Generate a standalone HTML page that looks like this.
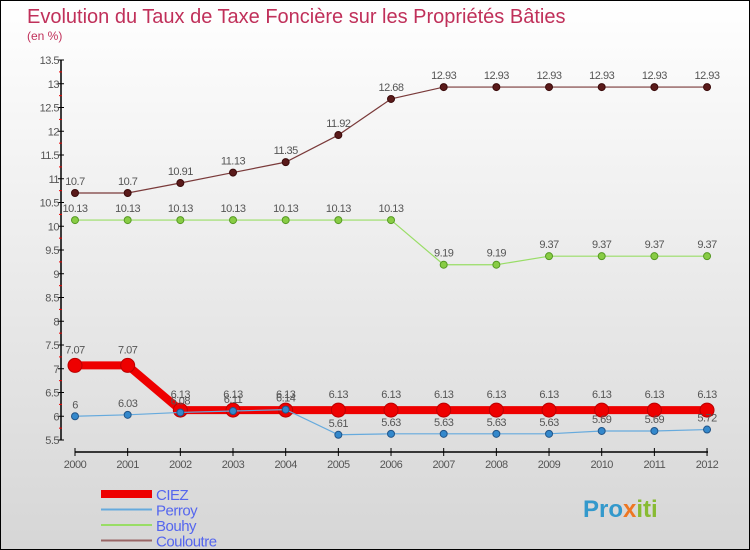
<!DOCTYPE html>
<html><head><meta charset="utf-8"><style>
body{margin:0}
#c{width:748px;height:548px;border:1px solid #000;background:linear-gradient(#fff,#d6d6d6);position:relative;overflow:hidden}
text{font-family:"Liberation Sans","DejaVu Sans",sans-serif}
</style></head><body>
<div id="c">
<svg id="s" width="748" height="548"></svg>
</div>
<script>
const years=[2000,2001,2002,2003,2004,2005,2006,2007,2008,2009,2010,2011,2012];
const ciez=[7.07,7.07,6.13,6.13,6.13,6.13,6.13,6.13,6.13,6.13,6.13,6.13,6.13];
const perroy=[6,6.03,6.08,6.11,6.14,5.61,5.63,5.63,5.63,5.63,5.69,5.69,5.72];
const bouhy=[10.13,10.13,10.13,10.13,10.13,10.13,10.13,9.19,9.19,9.37,9.37,9.37,9.37];
const couloutre=[10.7,10.7,10.91,11.13,11.35,11.92,12.68,12.93,12.93,12.93,12.93,12.93,12.93];
const yTicks=[5.5,6,6.5,7,7.5,8,8.5,9,9.5,10,10.5,11,11.5,12,12.5,13,13.5];
const NS='http://www.w3.org/2000/svg';
const s=document.getElementById('s');
const X=i=>74+i*52.67;
const Y=v=>439-(v-5.5)*47.5;
function el(t,a,txt){const e=document.createElementNS(NS,t);for(const k in a)e.setAttribute(k,a[k]);if(txt!==undefined)e.textContent=txt;s.appendChild(e);return e;}
let e;
e=el('text',{x:26,y:22,'font-size':20,fill:'#c0305a'},'Evolution du Taux de Taxe Foncière sur les Propriétés Bâties');


e=el('text',{x:26,y:39,'font-size':12,fill:'#c0305a'},'(en %)');


e=el('line',{x1:60,y1:59,x2:60,y2:439,stroke:'#000','stroke-width':1.5});


yTicks.forEach((v,i)=>{
 const t=el('line',{x1:57,y1:Y(v),x2:63,y2:Y(v),stroke:'#000'});
 
 
 if(i>0){const m=el('line',{x1:58,y1:Y(v)+11.9,x2:61,y2:Y(v)+11.9,stroke:'#e00'});}
 const l=el('text',{x:58,y:Y(v)+4,'font-size':11,fill:'#555','text-anchor':'end','letter-spacing':'-0.5'},String(v));
 
 
});
e=el('line',{x1:74,y1:451,x2:707,y2:451,stroke:'#000','stroke-width':1.5});


years.forEach((y,i)=>{
 const t=el('line',{x1:X(i),y1:447,x2:X(i),y2:455,stroke:'#000'});
 
 
 const l=el('text',{x:X(i),y:467,'font-size':11,fill:'#555','text-anchor':'middle','letter-spacing':'-0.5'},String(y));
 
 
});
function series(name,vals,color,w,r,dot,dotStroke,lblDy){
 const p=el('polyline',{points:vals.map((v,i)=>X(i)+','+Y(v)).join(' '),fill:'none',stroke:color,'stroke-width':w});
 
 
 vals.forEach((v,i)=>{
  const c=el('circle',{cx:X(i),cy:Y(v),r:r,fill:dot,stroke:dotStroke,'stroke-width':1});
  
  
  const l=el('text',{x:X(i),y:Y(v)+lblDy,'font-size':11,fill:'#555','text-anchor':'middle','letter-spacing':'-0.5'},String(v));
  
  
 });
}
series('couloutre',couloutre,'#7a3a3a',1.2,3.5,'#5a1a1a','#3a0a0a',-8);
series('bouhy',bouhy,'#99dd66',1.2,3.5,'#88cc44','#559922',-8);
series('ciez',ciez,'#ee0000',8,7,'#ee0000','#bb0000',-12);
series('perroy',perroy,'#66aadd',1.2,3.5,'#3388cc','#225588',-8);
const leg=[['CIEZ','#ee0000',8],['Perroy','#66aadd',2],['Bouhy','#99dd66',2],['Couloutre','#996666',2]];
leg.forEach((d,i)=>{
 const y=493+i*15.5;
 const l=el('line',{x1:100,y1:y,x2:151,y2:y,stroke:d[1],'stroke-width':d[2]});
 
 
 const t=el('text',{x:155,y:y+6,'font-size':15,fill:'#5566ee','letter-spacing':'-0.5'},d[0]);
 
 
});
e=el('text',{x:582,y:516,'font-size':24,'font-weight':'bold'});
e.innerHTML='<tspan fill="#3399cc">Pro</tspan><tspan fill="#ee7722">x</tspan><tspan fill="#88bb33">iti</tspan>';


</script>
</body></html>
